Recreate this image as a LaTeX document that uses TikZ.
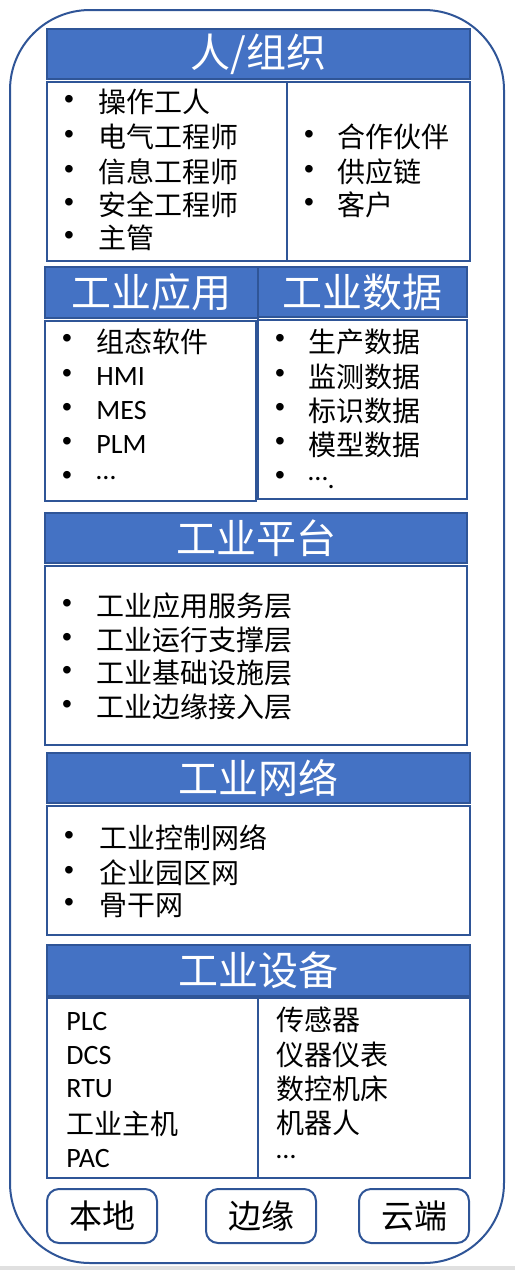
\documentclass[tikz,border=0pt]{standalone}
\usepackage{fontspec}
\setmainfont{Carlito}
\newfontfamily\cjk{Noto Sans CJK SC}
\newfontfamily\dotfont{Liberation Sans}
\definecolor{hdfill}{HTML}{4472C4}
\definecolor{hdline}{HTML}{2F5597}

\begin{document}
\begin{tikzpicture}[x=0.5pt,y=-0.5pt]
        % Define styles
        \tikzset{
            frame/.style={draw=hdline, line width=1pt},
            header/.style={draw=hdline, fill=hdfill, line width=0.8pt, text=white, inner sep=0pt, font=\cjk\fontsize{20pt}{24pt}\selectfont},
            item/.style={anchor=west, inner sep=0pt, font=\cjk\fontsize{14pt}{17pt}\selectfont},
            latin/.style={anchor=west, inner sep=0pt, font=\fontsize{14pt}{17pt}\selectfont},
            bulletdot/.style={inner sep=0pt, font=\dotfont\fontsize{14pt}{17pt}\selectfont},
            place/.style={draw=hdline, line width=1pt, rounded corners=6pt, minimum width=55pt, minimum height=27pt, font=\cjk\fontsize{16.5pt}{20pt}\selectfont}
        }
        \useasboundingbox (0,0) rectangle (515,1270);
        \fill[black!12] (0,1266) rectangle (515,1270);

        % Outer frame
        \draw[draw=hdline, line width=1pt, rounded corners=40pt] (10,10) rectangle (504,1263);

        % People / organisation
        \node[header, minimum width=211.5pt, minimum height=25pt] (org_head) at (258.5,54) {人/组织};
        \draw[frame] (47,82) rectangle (470,261);
        \draw[frame] (287,82) -- (287,261);
        \node[bulletdot] (org_b1) at (69,102) {•};
        \node[item] (org_t1) at (98,102) {操作工人};
        \node[bulletdot] (org_b2) at (69,137) {•};
        \node[item] (org_t2) at (98,137) {电气工程师};
        \node[bulletdot] (org_b3) at (69,172) {•};
        \node[item] (org_t3) at (98,172) {信息工程师};
        \node[bulletdot] (org_b4) at (69,205) {•};
        \node[item] (org_t4) at (98,205) {安全工程师};
        \node[bulletdot] (org_b5) at (69,238) {•};
        \node[item] (org_t5) at (98,238) {主管};
        \node[bulletdot] (org_b6) at (309,137) {•};
        \node[item] (org_t6) at (337,137) {合作伙伴};
        \node[bulletdot] (org_b7) at (309,172) {•};
        \node[item] (org_t7) at (337,172) {供应链};
        \node[bulletdot] (org_b8) at (309,205) {•};
        \node[item] (org_t8) at (337,205) {客户};

        % Applications and data
        \node[header, minimum width=106.5pt, minimum height=25.5pt] (app_head) at (151.5,292.5) {工业应用};
        \node[header, minimum width=104.5pt, minimum height=25pt] (data_head) at (362.5,292) {工业数据};
        \draw[frame] (45,321) rectangle (256,501);
        \draw[frame] (258,320) rectangle (467,499);
        \node[bulletdot] (app_b1) at (67,341) {•};
        \node[item] (app_t1) at (96,342) {组态软件};
        \node[bulletdot] (app_b2) at (67,376) {•};
        \node[latin] (app_t2) at (96,377) {HMI};
        \node[bulletdot] (app_b3) at (67,410) {•};
        \node[latin] (app_t3) at (96,411) {MES};
        \node[bulletdot] (app_b4) at (67,444) {•};
        \node[latin] (app_t4) at (96,445) {PLM};
        \node[bulletdot] (app_b5) at (67,478) {•};
        \node[latin] (app_t5) at (96,478) {…};
        \node[bulletdot] (data_b1) at (280,341) {•};
        \node[item] (data_t1) at (308,342) {生产数据};
        \node[bulletdot] (data_b2) at (280,376) {•};
        \node[item] (data_t2) at (308,377) {监测数据};
        \node[bulletdot] (data_b3) at (280,410) {•};
        \node[item] (data_t3) at (308,411) {标识数据};
        \node[bulletdot] (data_b4) at (280,444) {•};
        \node[item] (data_t4) at (308,445) {模型数据};
        \node[bulletdot] (data_b5) at (280,478) {•};
        \node[latin, anchor=base west] (data_t5) at (308,480) {…\raisebox{-4pt}{.}};

        % Platform
        \node[header, minimum width=211pt, minimum height=25pt] (plat_head) at (256,538) {工业平台};
        \draw[frame] (45,566) rectangle (467,745);
        \node[bulletdot] (plat_b1) at (67,606) {•};
        \node[item] (plat_t1) at (96,606) {工业应用服务层};
        \node[bulletdot] (plat_b2) at (67,640) {•};
        \node[item] (plat_t2) at (96,640) {工业运行支撑层};
        \node[bulletdot] (plat_b3) at (67,673) {•};
        \node[item] (plat_t3) at (96,673) {工业基础设施层};
        \node[bulletdot] (plat_b4) at (67,707) {•};
        \node[item] (plat_t4) at (96,707) {工业边缘接入层};

        % Network
        \node[header, minimum width=211.5pt, minimum height=25pt] (net_head) at (258.5,778) {工业网络};
        \draw[frame] (47,806) rectangle (470,935);
        \node[bulletdot] (net_b1) at (69,838) {•};
        \node[item] (net_t1) at (99,838) {工业控制网络};
        \node[bulletdot] (net_b2) at (69,873) {•};
        \node[item] (net_t2) at (99,873) {企业园区网};
        \node[bulletdot] (net_b3) at (69,905) {•};
        \node[item] (net_t3) at (99,905) {骨干网};

        % Equipment
        \node[header, minimum width=211.5pt, minimum height=25.5pt] (dev_head) at (258.5,970.5) {工业设备};
        \draw[frame] (47,998) rectangle (470,1178);
        \draw[frame] (258,998) -- (258,1178);
        \node[latin] (dev_t1) at (66,1021) {PLC};
        \node[latin] (dev_t2) at (66,1055) {DCS};
        \node[latin] (dev_t3) at (66,1089) {RTU};
        \node[item] (dev_t4) at (66,1124) {工业主机};
        \node[latin] (dev_t5) at (66,1158) {PAC};
        \node[item] (dev_t6) at (276,1020) {传感器};
        \node[item] (dev_t7) at (276,1055) {仪器仪表};
        \node[item] (dev_t8) at (276,1089) {数控机床};
        \node[item] (dev_t9) at (276,1123) {机器人};
        \node[latin] (dev_t10) at (276,1157) {…};

        % Deployment
        \node[place] (local) at (102,1216) {本地};
        \node[place] (edge) at (261,1216) {边缘};
        \node[place] (cloud) at (414,1216) {云端};
    \end{tikzpicture}
\end{document}
